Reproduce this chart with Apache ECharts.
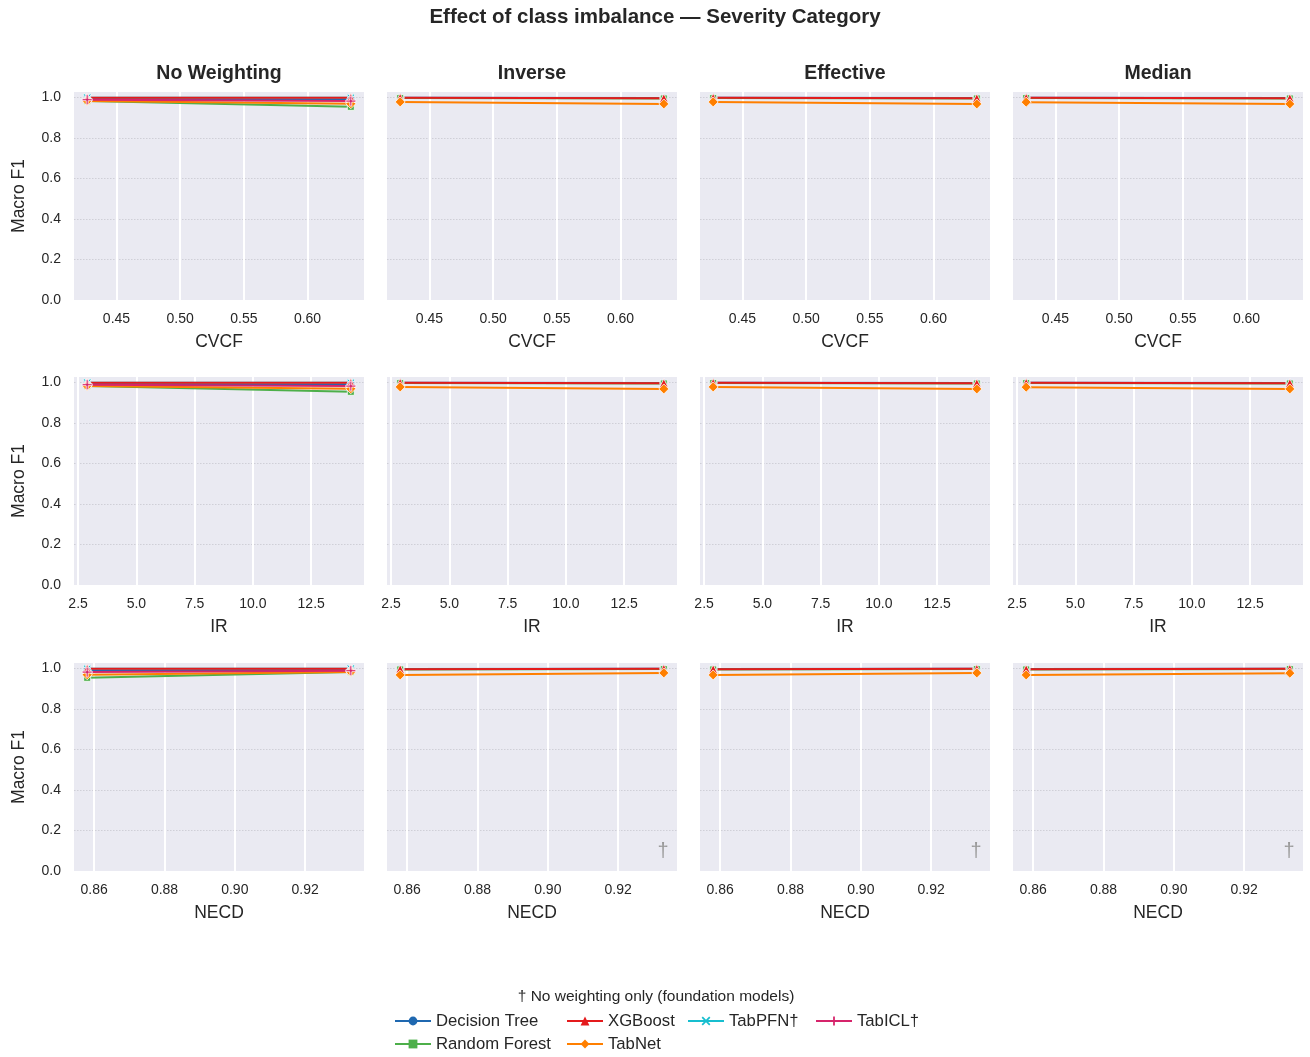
<!DOCTYPE html>
<html>
<head>
<meta charset="utf-8">
<script src="https://cdn.jsdelivr.net/npm/echarts@6/dist/echarts.min.js"></script>
<style>html,body{margin:0;padding:0;background:#fff;}#c{width:1310px;height:1057px;}</style>
</head>
<body>
<div id="c"></div>
<script>
// ---- data ----
const weightings = ['No Weighting', 'Inverse', 'Effective', 'Median'];
const metrics = ['CVCF', 'IR', 'NECD'];
// two datasets: [A, B]
const CVCF = [0.634, 0.427];
const IR = [14.2, 2.89];
const NECD = [0.858, 0.933];
const models = ['Decision Tree', 'Random Forest', 'XGBoost', 'TabNet', 'TabPFN†', 'TabICL†'];
// Macro F1 per model, [dataset A, dataset B]
const noWeightDT = [0.990, 0.992];
const noWeightRF = [0.954, 0.982];
const noWeightXGB = [0.998, 0.999];
const noWeightTabNet = [0.969, 0.983];
const noWeightTabPFN = [0.998, 0.999];
const noWeightTabICL = [0.982, 0.989];
const inverseDT = [0.997, 0.999];
const inverseRF = [0.995, 0.997];
const inverseXGB = [0.996, 0.998];
const inverseTabNet = [0.968, 0.978];
const effectiveDT = [0.997, 0.999];
const effectiveRF = [0.995, 0.997];
const effectiveXGB = [0.996, 0.998];
const effectiveTabNet = [0.968, 0.978];
const medianDT = [0.997, 0.999];
const medianRF = [0.995, 0.997];
const medianXGB = [0.996, 0.998];
const medianTabNet = [0.968, 0.977];
const yTicks = [0, 0.2, 0.4, 0.6, 0.8, 1.0];

// ---- styling ----
const FONT = '"Liberation Sans", Arial, "DejaVu Sans", sans-serif';
const colors = {
  'Decision Tree': '#1f68b0', 'Random Forest': '#4daf4a', 'XGBoost': '#e41a1c',
  'TabNet': '#ff7f00', 'TabPFN†': '#17becf', 'TabICL†': '#d6246b'
};
const plusPath = 'path://M4,0H6V4H10V6H6V10H4V6H0V4H4Z';
const xPath = 'path://M1.4,0L5,3.6L8.6,0L10,1.4L6.4,5L10,8.6L8.6,10L5,6.4L1.4,10L0,8.6L3.6,5L0,1.4Z';
const symbols = {
  'Decision Tree': ['circle', 8], 'Random Forest': ['rect', 7], 'XGBoost': ['triangle', 9],
  'TabNet': ['diamond', 10], 'TabPFN†': [xPath, 8], 'TabICL†': [plusPath, 10]
};
const drawOrder = ['Decision Tree', 'Random Forest', 'TabPFN†', 'XGBoost', 'TabNet', 'TabICL†'];
const table = {
  'No Weighting': {'Decision Tree': noWeightDT, 'Random Forest': noWeightRF, 'XGBoost': noWeightXGB, 'TabNet': noWeightTabNet, 'TabPFN†': noWeightTabPFN, 'TabICL†': noWeightTabICL},
  'Inverse': {'Decision Tree': inverseDT, 'Random Forest': inverseRF, 'XGBoost': inverseXGB, 'TabNet': inverseTabNet},
  'Effective': {'Decision Tree': effectiveDT, 'Random Forest': effectiveRF, 'XGBoost': effectiveXGB, 'TabNet': effectiveTabNet},
  'Median': {'Decision Tree': medianDT, 'Random Forest': medianRF, 'XGBoost': medianXGB, 'TabNet': medianTabNet}
};
const xData = {CVCF: CVCF, IR: IR, NECD: NECD};
const xDecimals = {CVCF: 2, IR: 1, NECD: 2};
const xStep = {CVCF: 0.05, IR: 2.5, NECD: 0.02};

const gridLefts = [74, 387, 700, 1013];
const gridTops = [92, 377, 663];
const gridW = 290, gridH = 208;
const YMAX = 1.027;

const grids = [], xAxes = [], yAxes = [], series = [], graphics = [];
graphics.push({type: 'text', x: 655, y: 17,
  style: {text: 'Effect of class imbalance — Severity Category', font: 'bold 20.5px ' + FONT, fill: '#262626',
    textAlign: 'center', textVerticalAlign: 'middle'}});
weightings.forEach((w, c) => {
  graphics.push({type: 'text', x: gridLefts[c] + gridW / 2, y: 74,
    style: {text: w, font: 'bold 19.5px ' + FONT, fill: '#262626', textAlign: 'center', textVerticalAlign: 'middle'}});
});
let idx = 0;
metrics.forEach((m, r) => {
  const xs = xData[m];
  const lo = Math.min(...xs), hi = Math.max(...xs), pad = (hi - lo) * 0.05;
  weightings.forEach((w, c) => {
    grids.push({left: gridLefts[c], top: gridTops[r], width: gridW, height: gridH,
      show: true, backgroundColor: '#eaeaf2', borderWidth: 0});
    xAxes.push({type: 'value', gridIndex: idx, min: lo - pad, max: hi + pad, splitNumber: 5,
      minInterval: xStep[m], maxInterval: xStep[m],
      name: m, nameLocation: 'middle', nameGap: 33,
      nameTextStyle: {fontFamily: FONT, fontSize: 17.5, color: '#262626'},
      axisLine: {show: false}, axisTick: {show: false},
      axisLabel: {fontFamily: FONT, fontSize: 14, color: '#262626', margin: 12,
        showMinLabel: false, showMaxLabel: false,
        formatter: v => v.toFixed(xDecimals[m])},
      splitLine: {show: true, showMinLine: false, showMaxLine: false, lineStyle: {color: '#ffffff', width: 2}}});
    yAxes.push({type: 'value', gridIndex: idx, min: 0, max: YMAX, interval: 0.2,
      name: c === 0 ? 'Macro F1' : '', nameLocation: 'middle', nameGap: 46,
      nameTextStyle: {fontFamily: FONT, fontSize: 17.5, color: '#262626'},
      axisLine: {show: false}, axisTick: {show: false},
      axisLabel: {show: c === 0, fontFamily: FONT, fontSize: 14, color: '#262626', margin: 13,
        showMaxLabel: false,
        formatter: v => yTicks.some(t => Math.abs(t - v) < 1e-9) ? v.toFixed(1) : ''},
      splitLine: {show: true, showMaxLine: false, showMinLine: false,
        lineStyle: {color: '#c8c8cf', width: 0.8, type: [1.5, 1.5]}}});
    const tw = table[w];
    drawOrder.forEach(name => {
      if (!tw[name]) return;
      const vals = tw[name];
      series.push({type: 'line', name: name, xAxisIndex: idx, yAxisIndex: idx,
        data: xs.map((x, i) => [x, vals[i]]).sort((a, b) => a[0] - b[0]),
        symbol: symbols[name][0], symbolSize: symbols[name][1], showSymbol: true,
        lineStyle: {color: colors[name], width: 2},
        itemStyle: {color: colors[name], borderColor: '#ffffff', borderWidth: 0.8},
        emphasis: {disabled: true}, animation: false, z: 3});
    });
    if (r === 2 && c > 0) {
      graphics.push({type: 'text', x: gridLefts[c] + gridW - 14, y: gridTops[r] + gridH - 20,
        style: {text: '†', font: '20px ' + FONT, fill: '#999999', textAlign: 'center', textVerticalAlign: 'middle'}});
    }
    idx++;
  });
});
graphics.push({type: 'text', x: 656, y: 997,
  style: {text: '† No weighting only (foundation models)', font: '15.5px ' + FONT, fill: '#262626',
    textAlign: 'center', textVerticalAlign: 'middle'}});

const legendBase = {orient: 'vertical', top: 1012, padding: 0, itemWidth: 36, itemHeight: 11, itemGap: 5,
  textStyle: {fontFamily: FONT, fontSize: 16.7, color: '#262626', lineHeight: 18}, selectedMode: false};
const mk = n => ({name: n, itemStyle: {color: colors[n], borderWidth: 0}});
const legends = [
  Object.assign({}, legendBase, {left: 394, data: ['Decision Tree', 'Random Forest'].map(mk)}),
  Object.assign({}, legendBase, {left: 566, data: ['XGBoost', 'TabNet'].map(mk)}),
  Object.assign({}, legendBase, {left: 687, data: ['TabPFN†'].map(mk)}),
  Object.assign({}, legendBase, {left: 815, data: ['TabICL†'].map(mk)})
];

const chart = echarts.init(document.getElementById('c'), null, {renderer: 'canvas'});
chart.setOption({
  backgroundColor: '#ffffff', animation: false,
  grid: grids, xAxis: xAxes, yAxis: yAxes, series: series,
  legend: legends, graphic: graphics
});
</script>
</body>
</html>
